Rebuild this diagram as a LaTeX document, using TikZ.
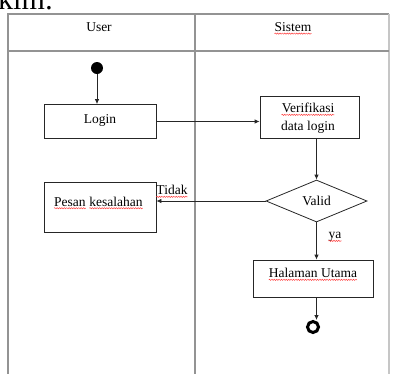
\documentclass[tikz,border=0pt]{standalone}
\usepackage{fontspec}
\setmainfont{Liberation Serif}
\usetikzlibrary{arrows.meta,shapes.geometric,decorations.pathmorphing}
\begin{document}
\begin{tikzpicture}[x=1pt,y=-1pt,
  font=\fontsize{13.5}{16}\selectfont,
  frame/.style={draw=gray!85, line width=1.1pt},
  lightframe/.style={draw=gray!45, line width=1.1pt},
  box/.style={draw=black!85, line width=0.8pt, rectangle, inner sep=0},
  conn/.style={draw=black!85, line width=0.8pt, -{Latex[length=5pt,width=4.5pt]}},
  lbl/.style={inner sep=0},
  squig/.style={draw=red!75, line width=0.5pt, decorate,
    decoration={snake, amplitude=0.6pt, segment length=2.4pt}}]
\useasboundingbox (0,0) rectangle (394,373);
\clip (0,0) rectangle (394,373);
\newcommand\wavy[1]{\draw[squig] ([yshift=-2.2pt]#1.base west) -- ([yshift=-2.2pt]#1.base east);}
% cropped caption text at the top
\node[anchor=base west, inner sep=0, font=\fontsize{30}{30}\selectfont] (cap) at (-2,9) {kim:};
% swimlane frame
\draw[frame] (8,380) -- (8,14) -- (389,14);
\draw[lightframe] (389,14) -- (389,380);
\draw[frame] (8,51) -- (389,51);
\draw[frame] (195,14) -- (195,380);
\node[lbl] (user) at (99,27) {User};
\node[lbl] (sis) at (293,27) {Sistem};
% nodes
\node[circle, fill=black, minimum size=12pt, inner sep=0] (start) at (97,68) {};
\node[box, minimum width=112pt, minimum height=34pt, text height=9pt, text depth=6pt] (login) at (100,121.5) {Login};
\node[box, minimum width=99pt, minimum height=42pt] (verif) at (309.5,117) {};
\node[lbl] (verift) at (308,108) {Verifikasi};
\node[lbl] (veril) at (308,127) {data login};
\node[diamond, draw=black!85, line width=0.8pt, inner sep=0, aspect=2.4, minimum width=101pt, minimum height=42pt] (valid) at (316.5,201) {Valid};
\node[box, minimum width=112pt, minimum height=50pt] (pesan) at (100,207) {};
\node[lbl, anchor=base west] (pw) at (54,206) {Pesan};
\node[lbl, anchor=base west] (kw) at ([xshift=3.4pt]pw.base east) {kesalahan};
\node[box, minimum width=120pt, minimum height=37pt] (halaman) at (313,278.5) {};
\node[lbl] (hal) at (313,273) {Halaman Utama};
\node[circle, draw=black, line width=3pt, minimum size=11pt, inner sep=0] (end) at (313,327) {};
\node[lbl] (tidak) at (172,190) {Tidak};
\node[lbl] (ya) at (335,237) {ya};
% spell-check underlines
\wavy{sis}
\wavy{verift}
\wavy{pw}
\wavy{kw}
\wavy{hal}
\wavy{tidak}
\wavy{ya}
% connectors
\draw[conn] (start.south) -- (start.south |- login.north);
\draw[conn] (login.east) -- (login.east -| verif.west);
\draw[conn] (valid.north |- verif.south) -- (valid.north);
\draw[conn] (valid.west) -- (valid.west -| pesan.east);
\draw[conn] (valid.south) -- (valid.south |- halaman.north);
\draw[conn] (halaman.south -| valid.south) -- (end.north -| valid.south);
\end{tikzpicture}
\end{document}
